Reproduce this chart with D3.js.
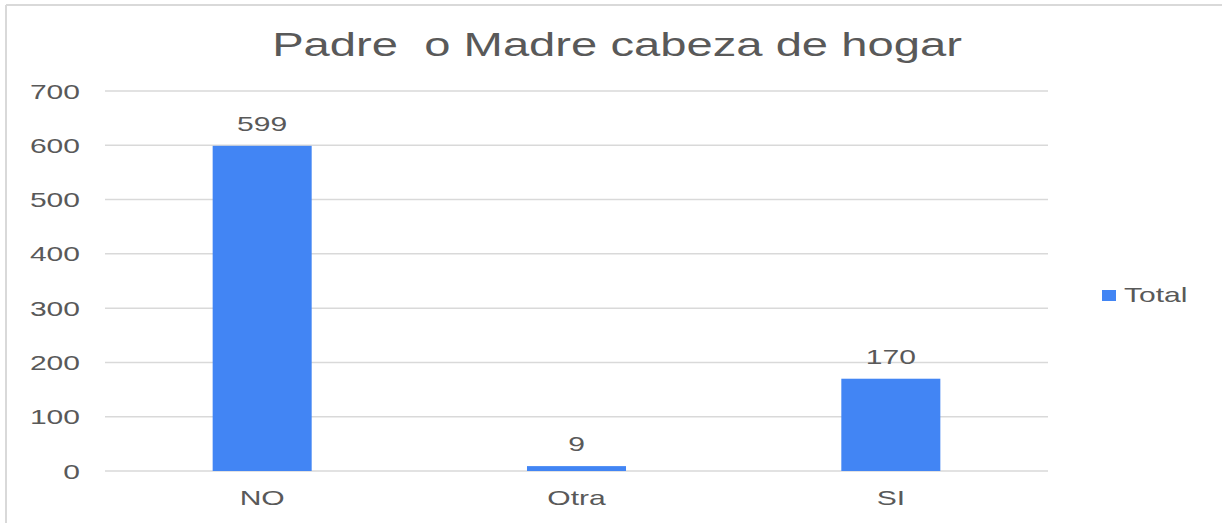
<!DOCTYPE html>
<html>
<head>
<meta charset="utf-8">
<script src="https://cdn.jsdelivr.net/npm/d3@7"></script>
<style>
  html, body { margin: 0; padding: 0; background: #fff; }
  svg text { font-family: "Liberation Sans", Arial, sans-serif; fill: #595959; }
</style>
</head>
<body>
<svg id="chart" width="1222" height="523"></svg>
<script>
// Data
const categories = ["NO", "Otra", "SI"];
const totals = [599, 9, 170];
const yTicks = [0, 100, 200, 300, 400, 500, 600, 700];
const chartTitle = "Padre\u00a0\u00a0o Madre cabeza de hogar";
const seriesName = "Total";

const svg = d3.select("#chart"),
      width = +svg.attr("width"),
      height = +svg.attr("height");

// the picture is stretched sideways, so text gets a horizontal scale
const STRETCH = 1.43;
const BAR_COLOR = "#4285f4";
const GRID_COLOR = "#d9d9d9";

const plot = { left: 105, right: 1048, top: 91, bottom: 471 };

let x = d3.scaleBand()
          .domain(categories)
          .range([plot.left, plot.right])
          .paddingInner(0.685)
          .paddingOuter(0.3425);

let y = d3.scaleLinear()
          .domain([0, 700])
          .range([plot.bottom, plot.top]);

// stretched text helper
function label(parent, tx, ty, str, size, anchor) {
  return parent.append("text")
    .attr("transform", "translate(" + tx + "," + ty + ") scale(" + STRETCH + ",1)")
    .attr("text-anchor", anchor || "middle")
    .style("font-size", size + "px")
    .text(str);
}

// chart border (top and left only visible)
svg.append("line")
   .attr("x1", 6).attr("x2", width).attr("y1", 5).attr("y2", 5)
   .attr("stroke", GRID_COLOR).attr("stroke-width", 2);
svg.append("line")
   .attr("x1", 6).attr("x2", 6).attr("y1", 5).attr("y2", height)
   .attr("stroke", GRID_COLOR).attr("stroke-width", 2);

// title
label(svg, 617, 56, chartTitle, 33);

// gridlines
svg.append("g")
   .selectAll("line")
   .data(yTicks)
   .enter().append("line")
   .attr("x1", plot.left)
   .attr("x2", plot.right)
   .attr("y1", (d) => y(d))
   .attr("y2", (d) => y(d))
   .attr("stroke", GRID_COLOR)
   .attr("stroke-width", 1.5);

// y tick labels
let yLab = svg.append("g");
yTicks.forEach((t) => label(yLab, 80, y(t) + 7.5, t, 21, "end"));

// bars
svg.append("g")
   .selectAll("rect")
   .data(totals)
   .enter().append("rect")
   .attr("x", (d, i) => x(categories[i]))
   .attr("width", x.bandwidth())
   .attr("y", (d) => y(d))
   .attr("height", (d) => y(0) - y(d))
   .attr("fill", BAR_COLOR);

// value labels
let vLab = svg.append("g");
totals.forEach((v, i) => label(vLab, x(categories[i]) + x.bandwidth() / 2, y(v) - 15, v, 21));

// category labels
let cLab = svg.append("g");
categories.forEach((c) => label(cLab, x(c) + x.bandwidth() / 2, 505, c, 21));

// legend
let legend = svg.append("g");
legend.append("rect")
      .attr("x", 1102).attr("y", 290)
      .attr("width", 14).attr("height", 11)
      .attr("fill", BAR_COLOR);
label(legend, 1124, 302, seriesName, 21, "start");
</script>
</body>
</html>
